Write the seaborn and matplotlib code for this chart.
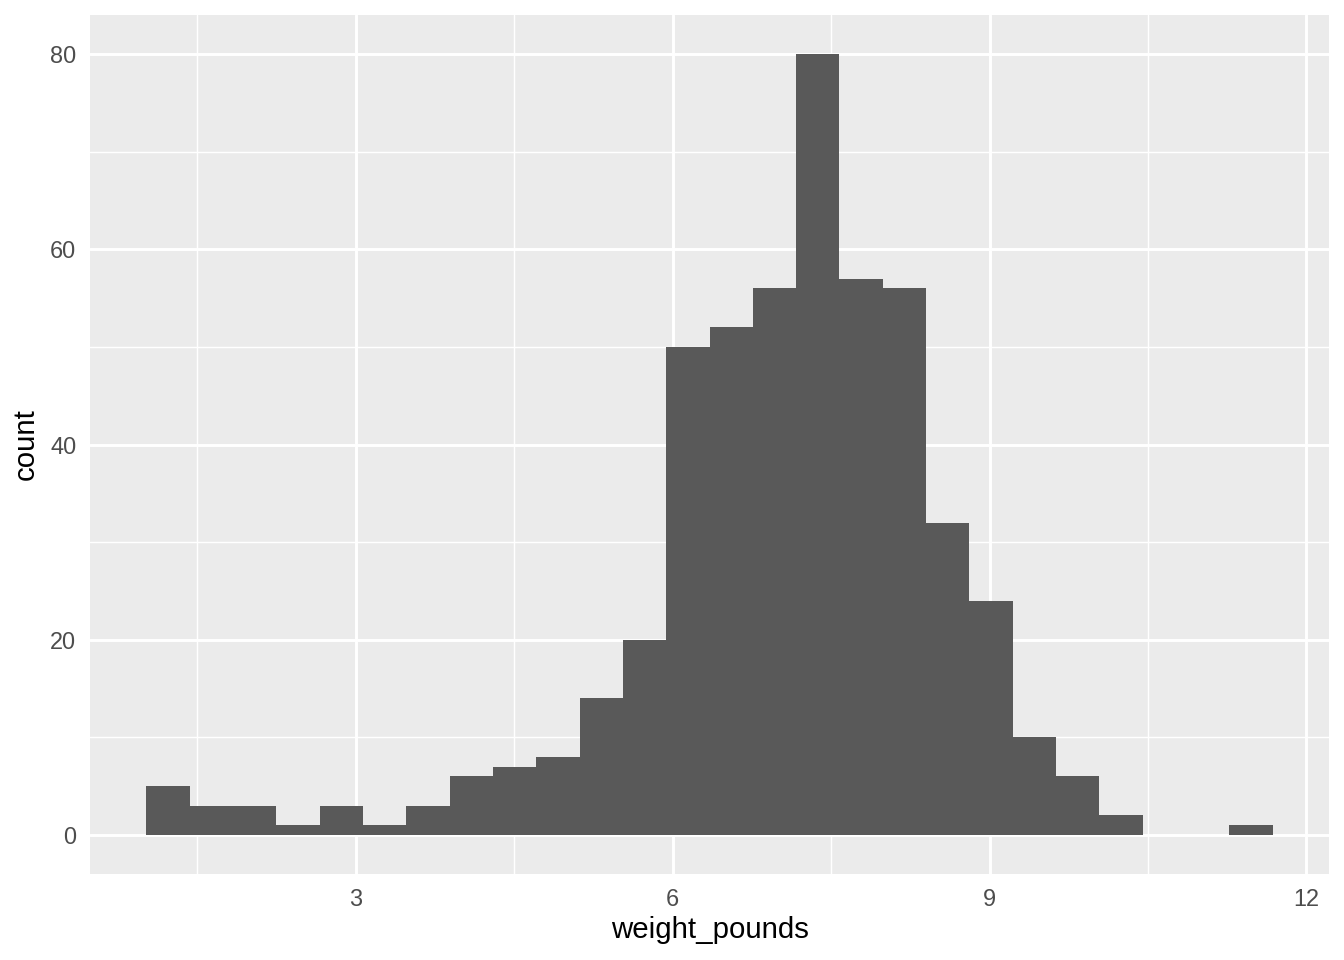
import numpy as np
import pandas as pd
import matplotlib
matplotlib.use("Agg")
import matplotlib.pyplot as plt
import seaborn as sns
from matplotlib.ticker import FixedLocator

# Histogram of weight_pounds (26 bins)
bin_start = 1.02
bin_width = 0.41
counts = [5, 3, 3, 1, 3, 1, 3, 6, 7, 8, 14, 20, 50, 52, 56, 80,
          57, 56, 32, 24, 10, 6, 2, 0, 0, 1]

x_ticks = [3, 6, 9, 12]
y_ticks = [0, 20, 40, 60, 80]

edges = [bin_start + bin_width * i for i in range(len(counts) + 1)]
df = pd.DataFrame({
    "weight_pounds": [(a + b) / 2 for a, b in zip(edges[:-1], edges[1:])],
    "n": counts,
})

sns.set_theme(style="darkgrid")
plt.rcParams["font.family"] = ["Liberation Sans", "DejaVu Sans"]

fig, ax = plt.subplots(figsize=(7, 5), dpi=192)
fig.subplots_adjust(left=90 / 1344, right=1329 / 1344,
                    top=1 - 15 / 960, bottom=1 - 874 / 960)

sns.histplot(data=df, x="weight_pounds", weights="n", bins=edges,
             color="#595959", alpha=1, edgecolor="none", linewidth=0, ax=ax)

ax.set_facecolor("#EBEBEB")
lo, hi = edges[0], edges[-1]
pad = (hi - lo) * 0.05
ax.set_xlim(lo - pad, hi + pad)
ax.set_ylim(-4, 84)

ax.xaxis.set_major_locator(FixedLocator(x_ticks))
ax.yaxis.set_major_locator(FixedLocator(y_ticks))
ax.xaxis.set_minor_locator(FixedLocator([1.5, 4.5, 7.5, 10.5]))
ax.yaxis.set_minor_locator(FixedLocator([10, 30, 50, 70]))
ax.grid(which="major", color="white", linewidth=1.1)
ax.grid(which="minor", color="white", linewidth=0.55)
ax.set_axisbelow(True)
for s in ax.spines.values():
    s.set_visible(False)

ax.tick_params(axis="both", which="major", length=3.2, width=1.0,
               color="#333333", labelcolor="#4D4D4D", labelsize=8.8, pad=2)
ax.tick_params(axis="both", which="minor", length=0)

ax.set_xlabel("weight_pounds", fontsize=11, color="black", labelpad=2)
ax.set_ylabel("count", fontsize=11, color="black", labelpad=4)

fig.savefig("out.png", dpi=192, facecolor="white")
